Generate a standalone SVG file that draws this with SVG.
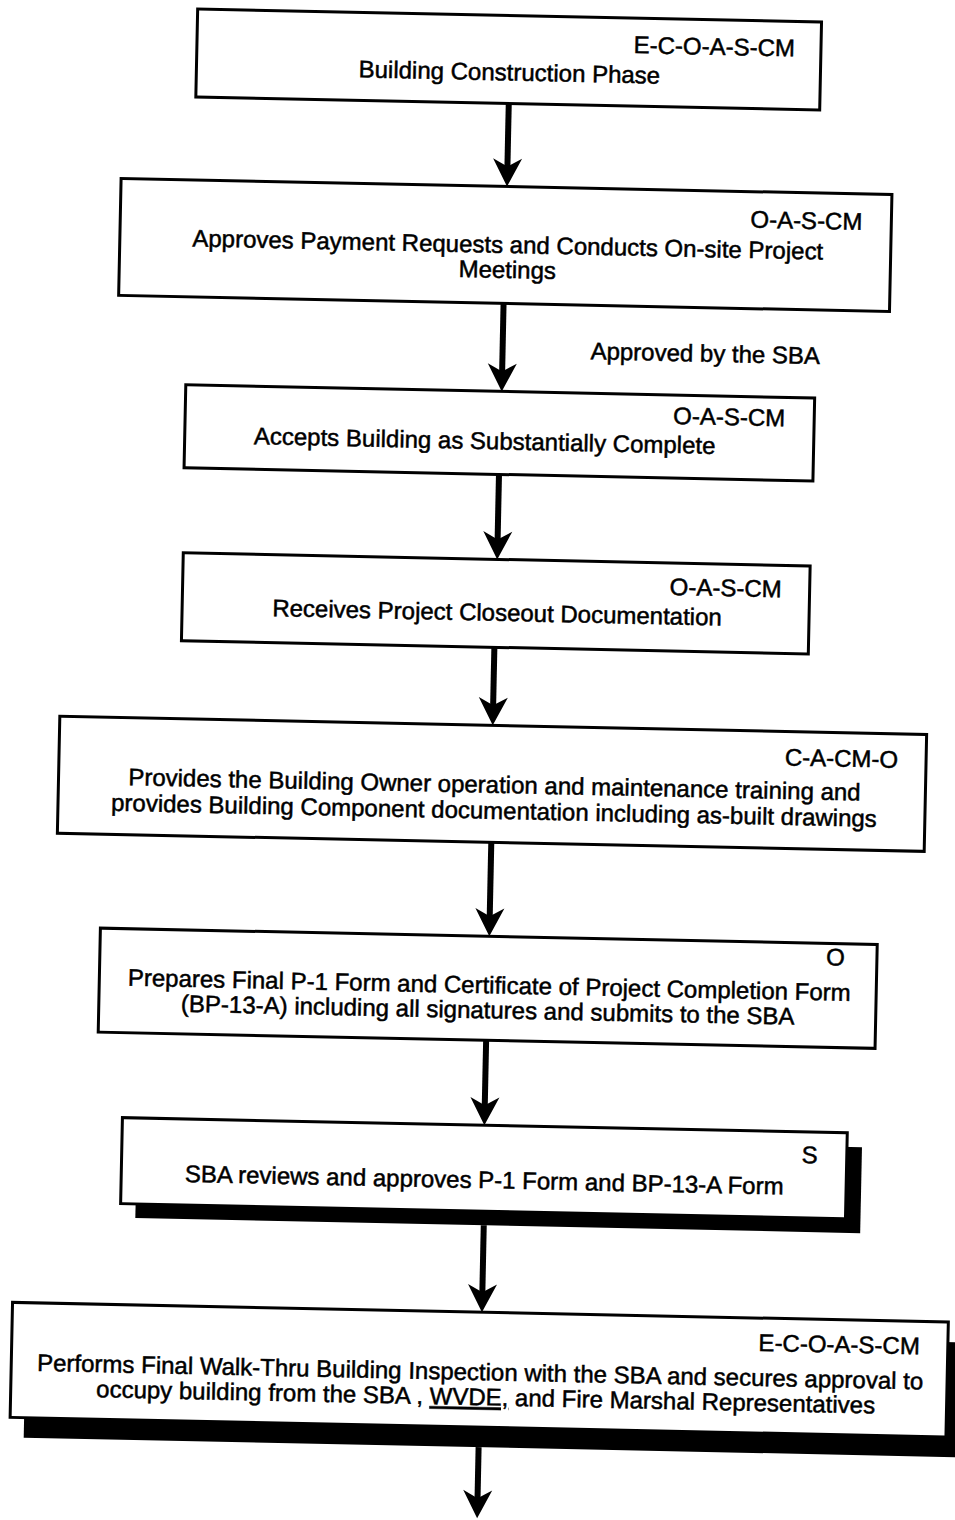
<svg xmlns="http://www.w3.org/2000/svg" width="955" height="1520" viewBox="0 0 955 1520">
<style>
.box{fill:#fff;stroke:#000;stroke-width:3}
.shadow{fill:#000;stroke:none}
text{font-family:"Liberation Sans",Arial,sans-serif;font-size:24px;fill:#000;stroke:#000;stroke-width:0.5}
.c{text-anchor:middle}
.r{text-anchor:end}
.conn{stroke:#000;stroke-width:6;fill:none;marker-end:url(#ah)}
</style>
<defs>
<marker id="ah" markerUnits="userSpaceOnUse" markerWidth="40" markerHeight="40" viewBox="-20 -20 40 40" refX="0" refY="0" orient="auto" overflow="visible">
<path d="M12,0 L-16,-14.5 L-8,0 L-16,14.5 Z" fill="#000"/>
</marker>
</defs>
<rect width="955" height="1520" fill="#fff"/>
<g transform="rotate(1.2 477 760)">
<g id="connectors">
<line class="conn" x1="495" y1="103" x2="495" y2="174"/>
<line class="conn" x1="494" y1="303" x2="494" y2="379"/>
<line class="conn" x1="493" y1="474" x2="493" y2="547"/>
<line class="conn" x1="492" y1="647" x2="492" y2="713"/>
<line class="conn" x1="493" y1="842" x2="493" y2="924"/>
<line class="conn" x1="492" y1="1040" x2="492" y2="1113"/>
<line class="conn" x1="493.5" y1="1225" x2="493.5" y2="1300"/>
<line class="conn" x1="493" y1="1447" x2="493" y2="1506"/>
<text x="582" y="357">Approved by the SBA</text>
</g>
<g id="n1">
<rect class="box" x="182" y="15" width="624" height="88"/>
<text class="r" x="780" y="50">E-C-O-A-S-CM</text>
<text class="c" x="495" y="80">Building Construction Phase</text>
</g>
<g id="n2">
<rect class="box" x="109" y="186" width="771" height="117"/>
<text class="r" x="851" y="222">O-A-S-CM</text>
<text class="c" x="497" y="252.5">Approves Payment Requests and Conducts On-site Project</text>
<text class="c" x="497" y="277.5">Meetings</text>
</g>
<g id="n3">
<rect class="box" x="178" y="391" width="629" height="83"/>
<text class="r" x="778" y="420">O-A-S-CM</text>
<text class="c" x="478" y="449">Accepts Building as Substantially Complete</text>
</g>
<g id="n4">
<rect class="box" x="179" y="559" width="627" height="88"/>
<text class="r" x="778" y="591">O-A-S-CM</text>
<text class="c" x="494" y="620.5">Receives Project Closeout Documentation</text>
</g>
<g id="n5">
<rect class="box" x="59" y="725" width="867" height="117"/>
<text class="r" x="898" y="759">C-A-CM-O</text>
<text class="c" x="495" y="792.5">Provides the Building Owner operation and maintenance training and</text>
<text class="c" x="495" y="818.5">provides Building Component documentation including as-built drawings</text>
</g>
<g id="n6">
<rect class="box" x="104" y="936" width="777" height="104"/>
<text class="r" x="849" y="958">O</text>
<text class="c" x="494" y="993">Prepares Final P-1 Form and Certificate of Project Completion Form</text>
<text class="c" x="493" y="1018">(BP-13-A) including all signatures and submits to the SBA</text>
</g>
<g id="n7">
<rect class="shadow" x="145" y="1139" width="725" height="86"/>
<rect class="box" x="130" y="1125" width="725" height="86"/>
<text class="r" x="826" y="1156">S</text>
<text class="c" x="493" y="1188">SBA reviews and approves P-1 Form and BP-13-A Form</text>
</g>
<g id="n8">
<rect class="shadow" x="38" y="1332" width="936" height="115"/>
<rect class="box" x="24" y="1312" width="936" height="115"/>
<text class="r" x="932" y="1345">E-C-O-A-S-CM</text>
<text class="c" x="493" y="1380">Performs Final Walk-Thru Building Inspection with the SBA and secures approval to</text>
<text class="c" x="499" y="1405">occupy building from the SBA , <tspan text-decoration="underline">WVDE,</tspan> and Fire Marshal Representatives</text>
</g>
</g>
</svg>
